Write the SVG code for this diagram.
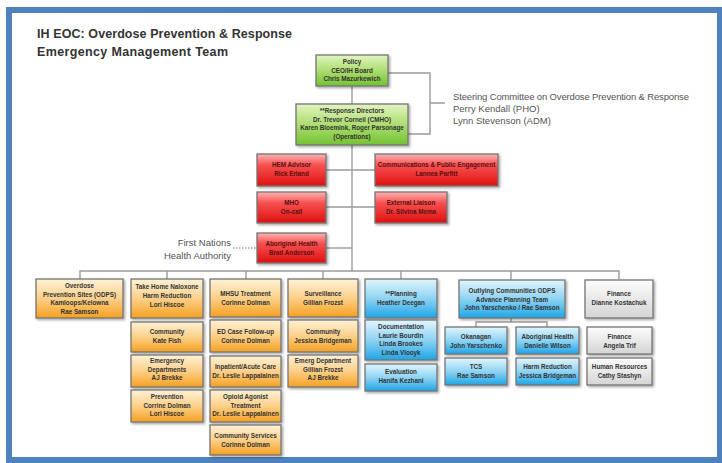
<svg xmlns="http://www.w3.org/2000/svg" width="722" height="463" viewBox="0 0 722 463">
<defs>
<linearGradient id="gGreen" x1="0" y1="0" x2="0" y2="1"><stop offset="0" stop-color="#e2f5c0"/><stop offset="0.5" stop-color="#aedd72"/><stop offset="1" stop-color="#72c232"/></linearGradient>
<linearGradient id="gRed" x1="0" y1="0" x2="0" y2="1"><stop offset="0" stop-color="#ffb3b3"/><stop offset="0.35" stop-color="#f65050"/><stop offset="1" stop-color="#e01010"/></linearGradient>
<linearGradient id="gOrange" x1="0" y1="0" x2="0" y2="1"><stop offset="0" stop-color="#fff1d6"/><stop offset="0.5" stop-color="#fcd08a"/><stop offset="1" stop-color="#f6a020"/></linearGradient>
<linearGradient id="gBlue" x1="0" y1="0" x2="0" y2="1"><stop offset="0" stop-color="#e2f5fd"/><stop offset="0.5" stop-color="#8fd3f3"/><stop offset="1" stop-color="#1ea5e6"/></linearGradient>
<linearGradient id="gGray" x1="0" y1="0" x2="0" y2="1"><stop offset="0" stop-color="#fdfdfd"/><stop offset="1" stop-color="#d4d4d4"/></linearGradient>
<filter id="sh" x="-10%" y="-10%" width="130%" height="140%"><feDropShadow dx="1.5" dy="1.5" stdDeviation="0.8" flood-color="#000" flood-opacity="0.35"/></filter>
</defs>
<style>
.frame{fill:#4f81bd}
.box{stroke:#747474;stroke-width:1.3;filter:url(#sh)}
.green{fill:url(#gGreen)}
.red{fill:url(#gRed)}
.orange{fill:url(#gOrange)}
.blue{fill:url(#gBlue)}
.gray{fill:url(#gGray)}
.t{font-family:"Liberation Sans",Arial,sans-serif;font-size:6.3px;font-weight:bold;fill:#333;text-anchor:middle}
.rt{fill:#5a1010}
.title{font-family:"Liberation Sans",Arial,sans-serif;font-size:12.5px;font-weight:bold;fill:#333}
.note{font-family:"Liberation Sans",Arial,sans-serif;font-size:9.5px;fill:#555}
.conn line,.conn path{stroke:#9a9a9a;stroke-width:1.4;fill:none}
.conn .dot{stroke:#777;stroke-width:1;stroke-dasharray:1.5 1.5}
</style>
<rect width="722" height="463" fill="#fff"/>
<g id="frame">
<rect class="frame" x="6" y="7" width="716" height="6"/>
<rect class="frame" x="6" y="7" width="6" height="456"/>
<rect class="frame" x="6" y="457" width="716" height="6"/>
<rect class="frame" x="717" y="7" width="5" height="456"/>
</g>
<g id="title">
<text class="title" x="37" y="38" textLength="255">IH EOC: Overdose Prevention &amp; Response</text>
<text class="title" x="37" y="56" textLength="191">Emergency Management Team</text>
</g>
<g id="steering">
<text class="note" x="453" y="100" textLength="236">Steering Committee on Overdose Prevention &amp; Response</text>
<text class="note" x="453" y="112">Perry Kendall (PHO)</text>
<text class="note" x="453" y="124">Lynn Stevenson (ADM)</text>
</g>
<g id="fnha">
<text class="note" x="231" y="246" text-anchor="end">First Nations</text>
<text class="note" x="231" y="259" text-anchor="end">Health Authority</text>
</g>
<g id="connectors" class="conn">
<line x1="352" y1="86" x2="352" y2="104"/>
<path d="M388 73H430V134H408M430 103H445"/>
<line x1="352" y1="145" x2="352" y2="271"/>
<line x1="326" y1="170" x2="375" y2="170"/>
<line x1="326" y1="207" x2="375" y2="207"/>
<line x1="326" y1="248" x2="352" y2="248"/>
<line class="dot" x1="233" y1="248" x2="257" y2="248"/>
<path d="M80 279V271H619V279M167 271V279M246 271V279M323 271V279M401 271V279M511 271V280"/>
<path d="M511 318V322M476 327V322H547V327"/>
</g>
<g id="n-policy"><rect class="box green" x="316" y="55" width="72" height="31"/><text class="t"><tspan x="352" y="64">Policy</tspan><tspan x="352" y="72.5">CEO/IH Board</tspan><tspan x="352" y="81">Chris Mazurkewich</tspan></text></g>
<g id="n-response"><rect class="box green" x="296" y="104" width="112" height="41"/><text class="t"><tspan x="352" y="113">**Response Directors</tspan><tspan x="352" y="121.5">Dr. Trevor Corneil (CMHO)</tspan><tspan x="352" y="130">Karen Bloemink, Roger Parsonage</tspan><tspan x="352" y="138.5">(Operations)</tspan></text></g>
<g id="n-hem"><rect class="box red" x="257" y="154" width="69" height="32"/><text class="t rt"><tspan x="291.5" y="167">HEM Advisor</tspan><tspan x="291.5" y="176">Rick Erland</tspan></text></g>
<g id="n-comms"><rect class="box red" x="375" y="154" width="123" height="32"/><text class="t rt"><tspan x="436.5" y="167">Communications &amp; Public Engagement</tspan><tspan x="436.5" y="176">Lannea Parfitt</tspan></text></g>
<g id="n-mho"><rect class="box red" x="257" y="192" width="69" height="31"/><text class="t rt"><tspan x="291.5" y="205">MHO</tspan><tspan x="291.5" y="214">On-call</tspan></text></g>
<g id="n-liaison"><rect class="box red" x="375" y="192" width="72" height="31"/><text class="t rt"><tspan x="411" y="205">External Liaison</tspan><tspan x="411" y="214">Dr. Silvina Mema</tspan></text></g>
<g id="n-aboriginal"><rect class="box red" x="257" y="233" width="69" height="30"/><text class="t rt"><tspan x="291.5" y="246">Aboriginal Health</tspan><tspan x="291.5" y="255">Brad Anderson</tspan></text></g>
<g id="n-odps"><rect class="box orange" x="36" y="279" width="87" height="39"/><text class="t"><tspan x="79.5" y="288">Overdose</tspan><tspan x="79.5" y="296.5">Prevention Sites (ODPS)</tspan><tspan x="79.5" y="305">Kamloops/Kelowna</tspan><tspan x="79.5" y="313.5">Rae Samson</tspan></text></g>
<g id="n-naloxone"><rect class="box orange" x="131" y="279" width="72" height="39"/><text class="t"><tspan x="167" y="289">Take Home  Naloxone</tspan><tspan x="167" y="298">Harm Reduction</tspan><tspan x="167" y="307">Lori Hiscoe</tspan></text></g>
<g id="n-community1"><rect class="box orange" x="131" y="322" width="72" height="30"/><text class="t"><tspan x="167" y="334">Community</tspan><tspan x="167" y="343">Kate Fish</tspan></text></g>
<g id="n-emergency"><rect class="box orange" x="131" y="355" width="72" height="32"/><text class="t"><tspan x="167" y="363">Emergency</tspan><tspan x="167" y="371.5">Departments</tspan><tspan x="167" y="380">AJ Brekke</tspan></text></g>
<g id="n-prevention"><rect class="box orange" x="131" y="390" width="72" height="32"/><text class="t"><tspan x="167" y="399">Prevention</tspan><tspan x="167" y="407.5">Corrine Dolman</tspan><tspan x="167" y="416">Lori Hiscoe</tspan></text></g>
<g id="n-mhsu"><rect class="box orange" x="210" y="279" width="71" height="38"/><text class="t"><tspan x="245.5" y="296">MHSU Treatment</tspan><tspan x="245.5" y="305">Corinne Dolman</tspan></text></g>
<g id="n-edcase"><rect class="box orange" x="210" y="320" width="71" height="32"/><text class="t"><tspan x="245.5" y="334">ED Case Follow-up</tspan><tspan x="245.5" y="343">Corinne Dolman</tspan></text></g>
<g id="n-inpatient"><rect class="box orange" x="210" y="356" width="71" height="31"/><text class="t"><tspan x="245.5" y="369">Inpatient/Acute Care</tspan><tspan x="245.5" y="378">Dr. Leslie Lappalainen</tspan></text></g>
<g id="n-opioid"><rect class="box orange" x="210" y="390" width="71" height="32"/><text class="t"><tspan x="245.5" y="399">Opioid Agonist</tspan><tspan x="245.5" y="407.5">Treatment</tspan><tspan x="245.5" y="416">Dr. Leslie Lappalainen</tspan></text></g>
<g id="n-commservices"><rect class="box orange" x="210" y="425" width="71" height="30"/><text class="t"><tspan x="245.5" y="438">Community Services</tspan><tspan x="245.5" y="447">Corinne Dolman</tspan></text></g>
<g id="n-surveillance"><rect class="box orange" x="288" y="279" width="70" height="38"/><text class="t"><tspan x="323" y="296">Surveillance</tspan><tspan x="323" y="305">Gillian Frozst</tspan></text></g>
<g id="n-community2"><rect class="box orange" x="288" y="320" width="70" height="32"/><text class="t"><tspan x="323" y="334">Community</tspan><tspan x="323" y="343">Jessica Bridgeman</tspan></text></g>
<g id="n-emergdept"><rect class="box orange" x="288" y="355" width="70" height="32"/><text class="t"><tspan x="323" y="363">Emerg Department</tspan><tspan x="323" y="371.5">Gillian Frozst</tspan><tspan x="323" y="380">AJ Brekke</tspan></text></g>
<g id="n-planning"><rect class="box blue" x="365" y="279" width="72" height="39"/><text class="t"><tspan x="401" y="296">**Planning</tspan><tspan x="401" y="305">Heather Deegan</tspan></text></g>
<g id="n-documentation"><rect class="box blue" x="365" y="320" width="72" height="40"/><text class="t"><tspan x="401" y="329">Documentation</tspan><tspan x="401" y="337.5">Laurie Bourdin</tspan><tspan x="401" y="346">Linda Brookes</tspan><tspan x="401" y="354.5">Linda Vlooyk</tspan></text></g>
<g id="n-evaluation"><rect class="box blue" x="365" y="364" width="72" height="27"/><text class="t"><tspan x="401" y="374">Evaluation</tspan><tspan x="401" y="382.5">Hanifa Kezhani</tspan></text></g>
<g id="n-outlying"><rect class="box blue" x="459" y="280" width="106" height="38"/><text class="t"><tspan x="512" y="293">Outlying Communities ODPS</tspan><tspan x="512" y="301.5">Advance Planning Team</tspan><tspan x="512" y="310">John Yarschenko / Rae Samson</tspan></text></g>
<g id="n-okanagan"><rect class="box blue" x="445" y="327" width="62" height="27"/><text class="t"><tspan x="476" y="339">Okanagan</tspan><tspan x="476" y="347.5">John Yarschenko</tspan></text></g>
<g id="n-aboriginal2"><rect class="box blue" x="516" y="327" width="63" height="27"/><text class="t"><tspan x="547.5" y="339">Aboriginal Health</tspan><tspan x="547.5" y="347.5">Danielle Wilson</tspan></text></g>
<g id="n-tcs"><rect class="box blue" x="445" y="358" width="62" height="27"/><text class="t"><tspan x="476" y="369">TCS</tspan><tspan x="476" y="377.5">Rae Samson</tspan></text></g>
<g id="n-harm"><rect class="box blue" x="516" y="358" width="63" height="27"/><text class="t"><tspan x="547.5" y="369">Harm Reduction</tspan><tspan x="547.5" y="377.5">Jessica Bridgeman</tspan></text></g>
<g id="n-finance1"><rect class="box gray" x="585" y="280" width="68" height="38"/><text class="t"><tspan x="619" y="296">Finance</tspan><tspan x="619" y="305">Dianne Kostachuk</tspan></text></g>
<g id="n-finance2"><rect class="box gray" x="587" y="327" width="65" height="27"/><text class="t"><tspan x="619.5" y="339">Finance</tspan><tspan x="619.5" y="347.5">Angela Trif</tspan></text></g>
<g id="n-hr"><rect class="box gray" x="587" y="358" width="65" height="27"/><text class="t"><tspan x="619.5" y="369">Human Resources</tspan><tspan x="619.5" y="377.5">Cathy Stashyn</tspan></text></g>
</svg>
